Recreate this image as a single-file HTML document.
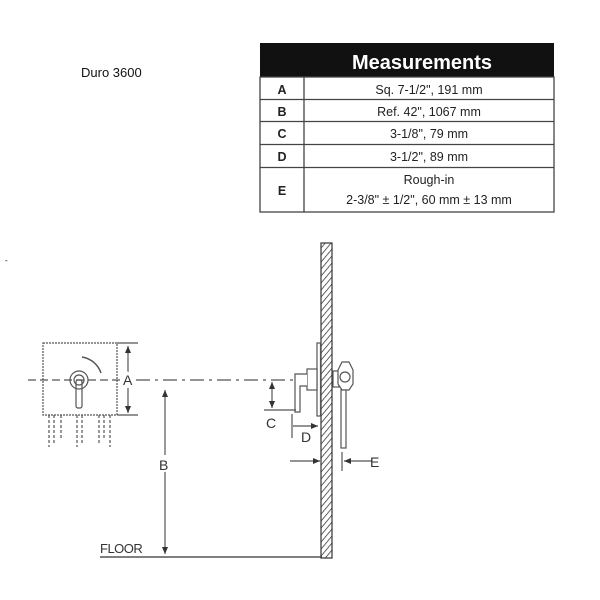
<!DOCTYPE html>
<html><head><style>body{margin:0;background:#fff}svg{display:block}</style></head><body>
<svg width="600" height="600" xmlns="http://www.w3.org/2000/svg" font-family="Liberation Sans, sans-serif">
<defs>
<pattern id="h" width="4.5" height="4.5" patternUnits="userSpaceOnUse" patternTransform="rotate(40)"><line x1="0" y1="0" x2="0" y2="4.5" stroke="#222" stroke-width="1.4"/></pattern>
<marker id="ar" markerWidth="8" markerHeight="8" refX="7" refY="4" orient="auto" markerUnits="userSpaceOnUse"><path d="M0,1 L7,4 L0,7z" fill="#333"/></marker>
</defs>
<text x="81" y="77" font-size="13" fill="#111">Duro 3600</text>
<rect x="260" y="43" width="294" height="34" fill="#111"/>
<text x="422" y="69" font-size="20" font-weight="bold" fill="#fff" text-anchor="middle">Measurements</text>
<g stroke="#444" stroke-width="1.3" fill="none">
<rect x="260" y="77" width="294" height="135"/>
<line x1="304" y1="77" x2="304" y2="212"/>
<line x1="260" y1="99.5" x2="554" y2="99.5"/>
<line x1="260" y1="121.5" x2="554" y2="121.5"/>
<line x1="260" y1="144.5" x2="554" y2="144.5"/>
<line x1="260" y1="167.5" x2="554" y2="167.5"/>
</g>
<g font-size="12.5" fill="#222" text-anchor="middle">
<g font-weight="bold"><text x="282" y="94">A</text><text x="282" y="116">B</text><text x="282" y="138">C</text><text x="282" y="161">D</text><text x="282" y="195">E</text></g>
<text x="429" y="94">Sq. 7-1/2", 191 mm</text>
<text x="429" y="116">Ref. 42", 1067 mm</text>
<text x="429" y="138">3-1/8", 79 mm</text>
<text x="429" y="161">3-1/2", 89 mm</text>
<text x="429" y="184">Rough-in</text><text x="429" y="204">2-3/8" ± 1/2", 60 mm ± 13 mm</text>
</g>
<text x="5" y="263" font-size="8">-</text>
<g stroke="#555" fill="none" stroke-width="1.2">
<rect x="43" y="343" width="74" height="72" stroke-dasharray="2,1"/>
<line x1="28" y1="380" x2="122" y2="380" stroke-dasharray="8,4"/>
<line x1="136" y1="380" x2="300" y2="380" stroke-dasharray="14,5,3,5"/>
<circle cx="79" cy="380" r="9"/><circle cx="79" cy="380" r="5"/>
<rect x="76" y="380" width="6" height="28" rx="2"/>
<path d="M82,357 A24,24 0 0 1 101,373" stroke-width="1.5"/>
<line x1="117" y1="343" x2="138" y2="343"/><line x1="117" y1="415" x2="138" y2="415"/>
<line x1="128" y1="372" x2="128" y2="346" marker-end="url(#ar)"/>
<line x1="128" y1="388" x2="128" y2="413" marker-end="url(#ar)"/>
<g stroke-dasharray="3,2"><path d="M49,415 V447 M54,415 V445 M61,415 V440 M77,415 V447 M82,415 V445 M99,415 V445 M104,415 V440 M110,415 V447"/></g>
<line x1="165" y1="455" x2="165" y2="390" marker-end="url(#ar)"/>
<line x1="165" y1="472" x2="165" y2="554" marker-end="url(#ar)"/>
<line x1="100" y1="557" x2="322" y2="557" stroke-width="1.5"/>
<rect x="321" y="243" width="11" height="315" fill="url(#h)" stroke="#333"/>
<rect x="317" y="343" width="3.5" height="73" fill="#fff"/>
<rect x="307" y="369" width="10" height="21" fill="#fff"/>
<path d="M307,374 H295 V412 H300 V386 H307" fill="#fff"/>
<line x1="264" y1="410" x2="296" y2="410"/>
<line x1="272" y1="395" x2="272" y2="382" marker-end="url(#ar)"/>
<line x1="272" y1="395" x2="272" y2="408" marker-end="url(#ar)"/>
<line x1="292" y1="414" x2="292" y2="438"/>
<line x1="293" y1="426" x2="318" y2="426" marker-end="url(#ar)"/>
<rect x="333" y="371" width="6" height="16" fill="#fff"/>
<path d="M338,370 L342,362 H349 L353,370 V384 L349,390 H342 L338,384 Z" fill="#fff"/>
<circle cx="345" cy="377" r="5"/>
<rect x="341" y="390" width="5" height="58" fill="#fff"/>
<line x1="290" y1="461" x2="320" y2="461" marker-end="url(#ar)"/>
<line x1="372" y1="461" x2="344" y2="461" marker-end="url(#ar)"/>
<line x1="342" y1="452" x2="342" y2="471"/>
</g>
<g font-size="14" fill="#333">
<text x="123" y="385" style="paint-order:stroke" stroke="#fff" stroke-width="3">A</text>
<text x="159" y="470">B</text>
<text x="266" y="428">C</text>
<text x="301" y="442">D</text>
<text x="370" y="467">E</text>
<text x="100" y="553" font-size="13" letter-spacing="-0.5">FLOOR</text>
</g>
</svg>
</body></html>
